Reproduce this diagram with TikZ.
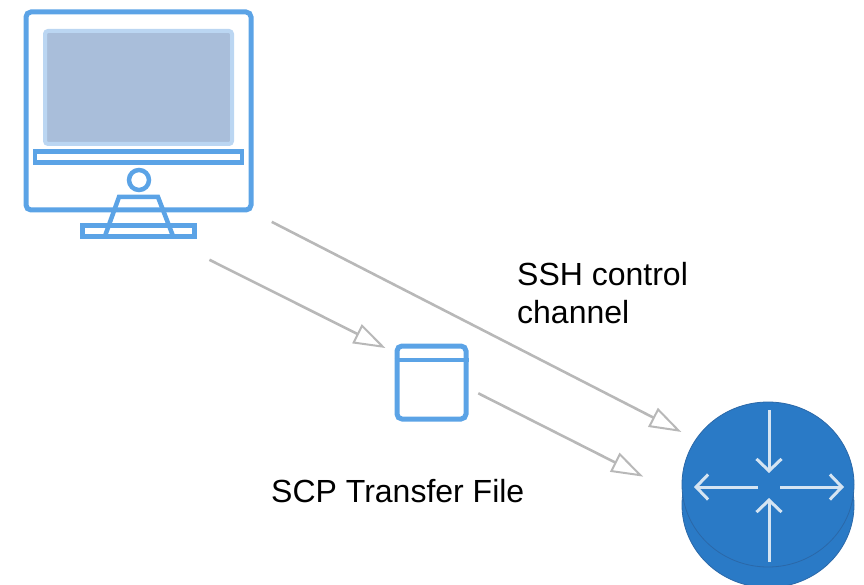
\documentclass[tikz,border=0pt]{standalone}
\usepackage{fontspec}
\setmainfont{Liberation Sans}
\usetikzlibrary{arrows.meta,shapes.geometric}
\definecolor{iconblue}{HTML}{5BA3E6}
\definecolor{screenfill}{HTML}{A9BEDA}
\definecolor{screenedge}{HTML}{BBD6F2}
\definecolor{routerblue}{HTML}{2A7AC6}
\definecolor{routeredge}{HTML}{2A68A8}
\definecolor{routerarrow}{HTML}{D5E4F2}
\definecolor{linkgray}{HTML}{B8B8B8}
\tikzset{
  icon/.style={draw=iconblue, line width=5pt, rounded corners=5pt, inner sep=0pt},
  iconline/.style={draw=iconblue, line width=4.5pt},
  link/.style={draw=linkgray, line width=2.6pt, -{Triangle[open, length=32pt, width=21pt, line width=2pt]}},
  disc/.style={shape=ellipse, fill=routerblue, draw=routeredge, line width=0.8pt, inner sep=0pt, minimum width=172pt, minimum height=165pt},
  flow/.style={draw=routerarrow, line width=3pt, -{Straight Barb[length=12pt, width=25pt, line width=3pt]}},
  caption/.style={anchor=base west, inner sep=0pt, align=left, font=\fontsize{32}{38}\selectfont, text=black}
}
\begin{document}
\begin{tikzpicture}[x=1pt, y=-1pt]
\clip (0,0) rectangle (864,585);
\node[icon, minimum width=225pt, minimum height=198pt] (pc) at (138.5,111) {};
\node[draw=screenedge, fill=screenfill, line width=4pt, rounded corners=3pt, inner sep=0pt, minimum width=187pt, minimum height=113pt] (screen) at (138.5,87.5) {};
\node[iconline, inner sep=0pt, minimum width=207pt, minimum height=11pt] (bar) at (138.5,157) {};
\node[iconline, shape=circle, inner sep=0pt, minimum size=20pt] (button) at (139,180) {};
\node[iconline, inner sep=0pt, minimum width=112pt, minimum height=11pt] (foot) at (138.5,231) {};
\draw[iconline] (105,236) -- (119,197) -- (158,197) -- (173,236);
\node[icon, minimum width=69pt, minimum height=73pt] (scp) at (431.5,382.5) {};
\draw[iconline] (scp.west |- 0,360) -- (scp.east |- 0,360);
\node[disc] (routerbase) at (768,505) {};
\node[disc] (router) at (768,484.5) {};
\draw[flow] (769,410) -- (769,473);
\draw[flow] (769,562) -- (769,498);
\draw[flow] (758,487) -- (694,487);
\draw[flow] (780,487) -- (844,487);
\draw[link, shorten <=20.5pt, shorten >=16pt] (pc.south east) -- (router.148);
\draw[link, shorten <=105.5pt, shorten >=10pt] (pc.-103) -- (scp.141);
\draw[link, shorten <=11pt, shorten >=44pt] (scp.-9) -- (router.188);
\node[caption] (sshlabel) at (517,323) {SSH control\\channel};
\node[caption] (scplabel) at (271,502) {SCP Transfer File};
\end{tikzpicture}
\end{document}
